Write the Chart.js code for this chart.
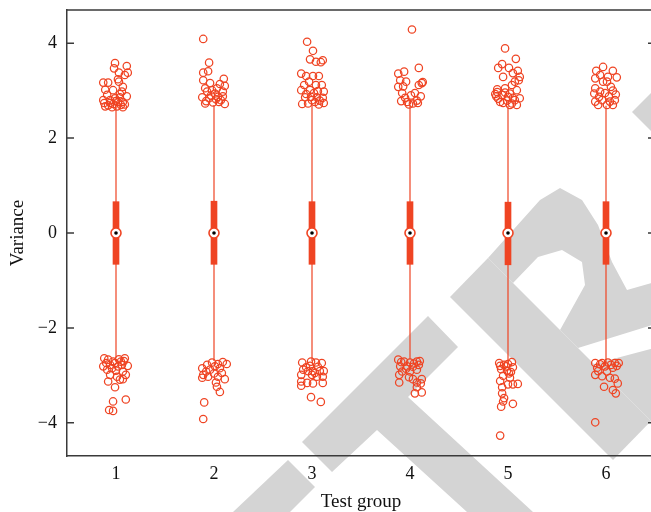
<!DOCTYPE html>
<html><head><meta charset="utf-8">
<script src="https://cdn.jsdelivr.net/npm/chart.js@4.4.0/dist/chart.umd.min.js"></script>
<style>html,body{margin:0;padding:0;overflow:hidden;background:#fff}#wrap{width:662px;height:512px;position:relative}</style>
</head><body><div id="wrap"><canvas id="c"></canvas></div>
<script>
// ---- data ----
const groups = [1, 2, 3, 4, 5, 6];
const yTicks = [-4, -2, 0, 2, 4];
const medians = [0, 0, 0, 0, 0, 0];
const q1 = [-0.66, -0.66, -0.66, -0.66, -0.67, -0.66];
const q3 = [0.66, 0.67, 0.66, 0.66, 0.65, 0.66];
const whiskerLow = [-2.64, -2.70, -2.70, -2.66, -2.72, -2.72];
const whiskerHigh = [2.66, 2.70, 2.70, 2.70, 2.68, 2.68];
// outliers: [horizontal jitter (in group units), value]
const outliers1 = [[-0.01,3.58],[0.11,3.52],[-0.02,3.47],[0.03,3.38],[0.12,3.38],[0.09,3.33],[0.02,3.24],[0.03,3.19],[-0.13,3.17],[-0.08,3.17],[0.07,3.08],[-0.11,3.02],[-0.03,3.01],[0.06,2.98],[0.11,2.88],[-0.09,2.91],[-0.13,2.80],[-0.06,2.80],[-0.01,2.84],[0.02,2.76],[0.07,2.76],[-0.11,2.67],[-0.04,2.65],[0.01,2.67],[0.07,2.65],[-0.03,2.72],[-0.08,2.69],[0.04,2.86],[0.05,2.70],[-0.06,2.74],[0.09,2.71],[0.00,2.78],[-0.12,2.74],[0.04,2.93],
  [-0.12,-2.64],[0.09,-2.64],[-0.08,-2.67],[-0.01,-2.74],[0.05,-2.71],[-0.13,-2.81],[0.12,-2.80],[-0.04,-2.85],[0.02,-2.81],[-0.09,-2.88],[0.07,-2.92],[-0.06,-2.99],[0.01,-3.03],[0.10,-2.99],[-0.08,-3.13],[0.04,-3.09],[0.07,-3.08],[-0.01,-3.25],[-0.03,-3.55],[0.10,-3.51],[-0.07,-3.73],[-0.03,-3.75],[-0.10,-2.74],[0.06,-2.78],[-0.03,-2.71],[0.03,-2.66],[-0.06,-2.78],[0.08,-2.70],[0.00,-2.90]];
const outliers2 = [[-0.11,4.09],[-0.05,3.59],[-0.11,3.38],[-0.06,3.41],[-0.11,3.22],[-0.04,3.16],[0.10,3.25],[0.06,3.14],[0.11,3.10],[-0.09,3.05],[-0.02,3.01],[0.03,3.05],[0.09,2.98],[-0.07,2.98],[0.01,2.94],[-0.12,2.86],[-0.05,2.84],[0.04,2.87],[0.09,2.88],[-0.09,2.73],[-0.01,2.75],[0.11,2.72],[-0.08,2.78],[0.05,2.76],[-0.03,2.90],[0.02,2.82],[0.07,2.80],
  [-0.07,-2.78],[-0.02,-2.73],[0.09,-2.72],[0.13,-2.76],[-0.12,-2.85],[0.01,-2.81],[0.06,-2.85],[-0.11,-2.99],[-0.06,-3.03],[0.04,-3.03],[0.11,-3.08],[-0.12,-3.05],[0.02,-3.15],[0.03,-3.24],[0.06,-3.35],[-0.10,-3.57],[-0.11,-3.92],[-0.04,-2.88],[0.04,-2.76],[-0.08,-2.92],[0.08,-2.95],[0.00,-2.96]];
const outliers3 = [[-0.05,4.03],[0.01,3.84],[-0.02,3.66],[0.04,3.61],[0.11,3.64],[0.09,3.60],[-0.11,3.36],[-0.06,3.31],[0.01,3.31],[0.07,3.31],[-0.03,3.19],[-0.08,3.12],[0.04,3.12],[0.10,3.12],[-0.11,3.01],[-0.02,3.01],[0.06,2.99],[0.12,2.98],[-0.07,2.86],[-0.01,2.87],[0.05,2.86],[0.11,2.85],[-0.10,2.72],[-0.04,2.73],[0.03,2.76],[0.12,2.74],[0.00,2.80],[0.07,2.71],[-0.06,2.93],[0.02,2.95],[0.08,2.79],
  [-0.10,-2.73],[-0.01,-2.71],[0.04,-2.73],[0.10,-2.74],[-0.09,-2.88],[-0.04,-2.91],[0.01,-2.91],[0.08,-2.91],[0.12,-2.91],[-0.11,-2.99],[0.00,-2.99],[0.11,-3.03],[-0.11,-3.13],[-0.05,-3.16],[0.01,-3.17],[0.11,-3.16],[-0.11,-3.22],[-0.01,-3.46],[0.09,-3.56],[0.05,-3.03],[-0.06,-2.83],[0.06,-2.82],[0.03,-2.95],[-0.02,-2.80]];
const outliers4 = [[0.02,4.29],[0.09,3.48],[-0.12,3.36],[-0.06,3.40],[-0.10,3.22],[-0.04,3.19],[0.12,3.16],[-0.12,3.08],[-0.07,3.09],[0.09,3.12],[-0.08,2.95],[0.05,2.95],[0.11,2.88],[-0.09,2.78],[-0.03,2.76],[0.03,2.73],[0.08,2.74],[-0.01,2.71],[0.07,2.79],[0.13,3.18],[-0.05,2.85],[0.01,2.90],
  [-0.12,-2.67],[-0.06,-2.71],[0.00,-2.73],[0.07,-2.71],[0.09,-2.78],[-0.10,-2.81],[-0.03,-2.81],[0.03,-2.82],[-0.08,-2.92],[0.00,-2.92],[0.07,-2.88],[-0.11,-2.99],[-0.01,-3.04],[0.03,-3.08],[0.12,-3.08],[-0.11,-3.15],[0.07,-3.15],[0.11,-3.17],[0.07,-3.25],[0.05,-3.38],[0.12,-3.36],[-0.09,-2.72],[0.04,-2.75],[0.10,-2.70],[-0.04,-2.86]];
const outliers5 = [[-0.03,3.89],[0.08,3.67],[-0.06,3.56],[-0.10,3.48],[0.01,3.48],[0.10,3.42],[0.05,3.37],[0.12,3.29],[-0.05,3.29],[0.07,3.19],[0.11,3.22],[0.04,3.12],[-0.11,3.03],[-0.03,3.05],[0.09,3.01],[-0.13,2.93],[-0.06,2.91],[0.02,2.94],[0.12,2.84],[-0.10,2.83],[-0.01,2.79],[0.07,2.80],[-0.05,2.74],[0.04,2.73],[0.09,2.70],[-0.11,2.97],[0.00,2.87],[-0.08,2.76],[0.05,2.85],[-0.12,2.88],[0.02,2.70],[-0.03,2.96],
  [-0.09,-2.74],[-0.04,-2.78],[0.00,-2.76],[0.05,-2.83],[-0.07,-2.87],[-0.01,-2.90],[0.03,-2.93],[-0.05,-3.01],[0.02,-3.05],[0.10,-3.18],[0.05,-3.19],[0.00,-3.19],[-0.08,-3.12],[-0.06,-3.25],[-0.06,-3.38],[-0.04,-3.48],[-0.05,-3.55],[0.05,-3.60],[-0.07,-3.66],[-0.08,-4.27],[-0.02,-2.81],[0.04,-2.72],[-0.08,-2.80],[0.01,-2.96]];
const outliers6 = [[-0.03,3.50],[-0.10,3.42],[0.07,3.42],[-0.06,3.33],[0.02,3.29],[0.11,3.28],[-0.11,3.26],[-0.03,3.19],[0.01,3.19],[-0.11,3.05],[0.07,3.00],[-0.06,2.98],[-0.12,2.94],[-0.01,2.95],[0.09,2.80],[-0.11,2.77],[-0.04,2.80],[0.04,2.77],[-0.08,2.70],[0.01,2.70],[0.07,2.70],[0.03,2.88],[-0.07,2.87],[0.10,2.92],[0.05,3.08],
  [-0.11,-2.74],[-0.04,-2.74],[0.02,-2.73],[0.09,-2.74],[0.13,-2.74],[-0.09,-2.84],[-0.01,-2.81],[0.07,-2.84],[-0.11,-2.99],[-0.04,-3.02],[0.04,-3.05],[0.09,-3.07],[0.12,-3.17],[-0.02,-3.24],[0.07,-3.31],[0.10,-3.38],[-0.11,-3.99],[-0.08,-2.91],[0.05,-2.78],[-0.06,-2.77],[0.11,-2.80],[0.01,-2.92]];
const outlierSets = [outliers1, outliers2, outliers3, outliers4, outliers5, outliers6];

// ---- styling ----
const RED = '#ef4423';
const AXIS = '#3a3a3a';
const FONT = "'Liberation Serif', 'Times New Roman', serif";

const whiskerData = [];
groups.forEach((g, i) => {
  whiskerData.push({x: g, y: whiskerLow[i]}, {x: g, y: whiskerHigh[i]}, {x: g, y: null});
});
const boxData = groups.map((g, i) => ({x: g, y: [q1[i], q3[i]]}));
const medianData = groups.map((g, i) => ({x: g, y: medians[i]}));
const outlierData = [];
groups.forEach((g, i) => outlierSets[i].forEach(p => outlierData.push({x: g + p[0], y: p[1]})));

const watermark = {
  id: 'watermark',
  beforeDraw(chart) {
    const ctx = chart.ctx;
    const polys = [
      [[233,512],[288,460],[315,487],[290,512]],
      [[428,316],[458,347],[408,397],[533,512],[467,512],[377,430],[332,472],[302,442]],
      [[450,297],[488,258],[651,421],[613,460]],
      [[488,258],[540,200],[560,188],[582,200],[598,225],[612,262],[627,290],[662,280],[662,322],[578,348],[560,330],[585,285],[582,262],[562,250],[538,257],[513,283]],
      [[594,364],[662,346],[662,432]],
      [[632,112],[662,82],[662,142]]
    ];
    ctx.save();
    ctx.fillStyle = '#d4d4d4';
    polys.forEach(p => {
      ctx.beginPath();
      p.forEach((pt, k) => k ? ctx.lineTo(pt[0], pt[1]) : ctx.moveTo(pt[0], pt[1]));
      ctx.closePath();
      ctx.fill();
    });
    ctx.restore();
  }
};

const frame = {
  id: 'frame',
  afterDraw(chart) {
    const {ctx, chartArea: a, scales: {y}} = chart;
    ctx.save();
    ctx.strokeStyle = AXIS;
    ctx.lineWidth = 1.5;
    ctx.beginPath();
    ctx.moveTo(a.left, a.top); ctx.lineTo(a.right, a.top); ctx.lineTo(a.right, a.bottom);
    yTicks.forEach(v => {
      const py = y.getPixelForValue(v);
      ctx.moveTo(a.left, py); ctx.lineTo(a.left + 7, py);
      ctx.moveTo(a.right, py); ctx.lineTo(a.right - 7, py);
    });
    ctx.stroke();
    ctx.restore();
  }
};

new Chart(document.getElementById('c'), {
  type: 'scatter',
  data: {
    datasets: [
      {type: 'scatter', data: medianData, order: 0, pointRadius: 1.8, pointBackgroundColor: '#000', pointBorderWidth: 0},
      {type: 'scatter', data: medianData, order: 1, pointRadius: 5, pointBackgroundColor: '#fff', pointBorderColor: RED, pointBorderWidth: 1.6},
      {type: 'bar', data: boxData, order: 2, backgroundColor: RED, borderWidth: 0, barThickness: 6, grouped: false},
      {type: 'line', data: whiskerData, order: 3, borderColor: RED, borderWidth: 1.2, pointRadius: 0, spanGaps: false, fill: false},
      {type: 'scatter', data: outlierData, order: 4, pointRadius: 3.7, pointBorderWidth: 1.25, pointBorderColor: RED, pointBackgroundColor: 'rgba(0,0,0,0)'}
    ]
  },
  options: {
    responsive: true,
    maintainAspectRatio: false,
    animation: false,
    devicePixelRatio: 1,
    layout: {padding: {top: 10, right: 7, left: 0, bottom: 0}},
    plugins: {legend: {display: false}, tooltip: {enabled: false}},
    scales: {
      x: {
        type: 'linear', min: 0.5, max: 6.5, offset: false,
        afterBuildTicks: s => { s.ticks = groups.map(v => ({value: v})); },
        afterFit: s => { s.height = 56; s.paddingLeft = 0; s.paddingRight = 0; },
        grid: {display: false, drawTicks: false, offset: false},
        border: {display: true, color: AXIS, width: 1.5},
        ticks: {color: '#111', font: {family: FONT, size: 18}, padding: 7, callback: v => String(v)},
        title: {display: true, text: 'Test group', color: '#111', font: {family: FONT, size: 19, lineHeight: 1}, padding: {top: 0, bottom: 0}}
      },
      y: {
        min: -4.7, max: 4.7,
        afterBuildTicks: s => { s.ticks = yTicks.map(v => ({value: v})); },
        afterFit: s => { s.width = 67; s.paddingTop = 0; s.paddingBottom = 0; },
        grid: {display: false, drawTicks: false},
        border: {display: true, color: AXIS, width: 1.5},
        ticks: {color: '#111', font: {family: FONT, size: 18}, padding: 10, callback: v => v < 0 ? '\u2212' + Math.abs(v) : String(v)},
        title: {display: true, text: 'Variance', color: '#111', font: {family: FONT, size: 19, lineHeight: 1}, padding: {top: 8.5, bottom: 0}}
      }
    }
  },
  plugins: [watermark, frame]
});
</script></body></html>
